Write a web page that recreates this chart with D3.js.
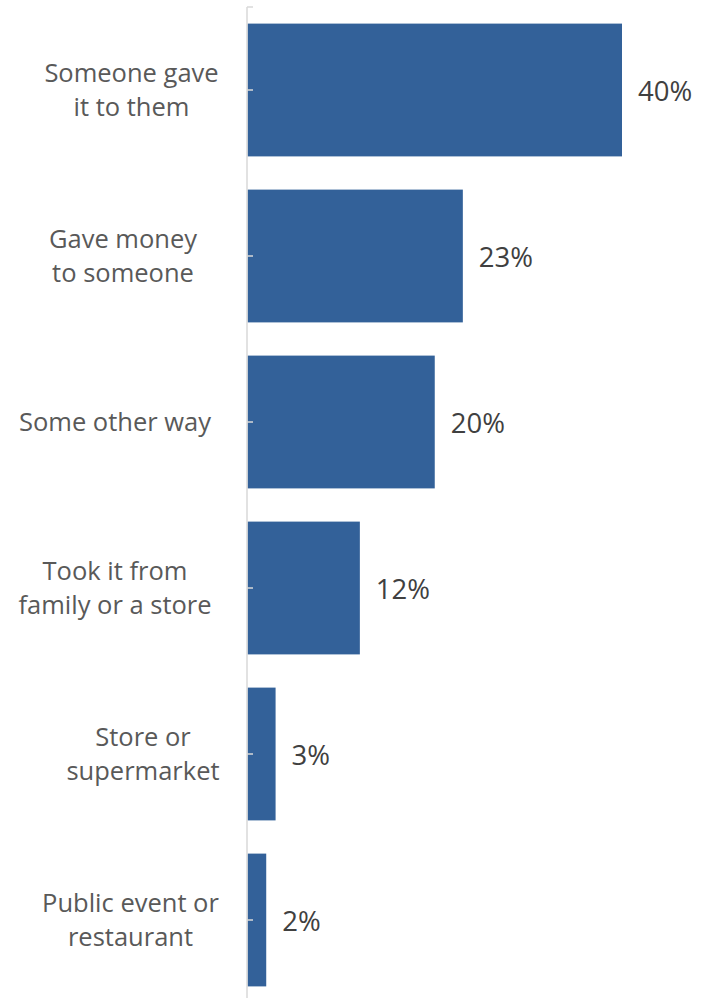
<!DOCTYPE html>
<html><head><meta charset="utf-8">
<script src="https://cdn.jsdelivr.net/npm/d3@7"></script>
<style>html,body{margin:0;padding:0;background:#fff;}</style>
</head><body>
<script>
const categories = [
  ["Someone gave", "it to them"],
  ["Gave money", "to someone"],
  ["Some other way"],
  ["Took it from", "family or a store"],
  ["Store or", "supermarket"],
  ["Public event or", "restaurant"]
];
const values = [40, 23, 20, 12, 3, 2];
const valueLabels = ["40%", "23%", "20%", "12%", "3%", "2%"];

const W = 702, H = 998;
const svg = d3.select("body").append("svg").attr("width", W).attr("height", H);
const font = "'Open Sans', sans-serif";
const textColor = "#595959";

const y = d3.scaleBand().domain(d3.range(categories.length)).range([7, 1003]).paddingInner(0.2).paddingOuter(0.1);
const x = d3.scaleLinear().domain([0, 40]).range([247.5, 622]);

svg.selectAll("rect.bar").data(values).enter().append("rect")
  .attr("class", "bar")
  .attr("x", x(0)).attr("y", (d, i) => y(i))
  .attr("width", d => x(d) - x(0)).attr("height", y.bandwidth())
  .attr("fill", "#336199");

// axis
const axisColor = "#d9d9d9";
svg.append("line").attr("x1", 247).attr("x2", 247).attr("y1", 7).attr("y2", 998)
  .attr("stroke", axisColor).attr("stroke-width", 1.5);
svg.append("line").attr("x1", 247).attr("x2", 253).attr("y1", 7).attr("y2", 7)
  .attr("stroke", axisColor).attr("stroke-width", 1.5);
svg.selectAll("line.tick").data(values).enter().append("line")
  .attr("class", "tick")
  .attr("x1", 247).attr("x2", 253)
  .attr("y1", (d, i) => y(i) + y.bandwidth() / 2).attr("y2", (d, i) => y(i) + y.bandwidth() / 2)
  .attr("stroke", axisColor).attr("stroke-width", 1.5);

// category labels (wrapped, each block centered as in the original layout)
const labelCenterX = [131.5, 123, 115, 115, 143, 130.5];
const fs = 25.5, lh = 34.5;
categories.forEach((lines, i) => {
  const cy = y(i) + y.bandwidth() / 2;
  lines.forEach((t, k) => svg.append("text")
    .attr("font-family", font).attr("font-size", fs).attr("fill", textColor)
    .attr("text-anchor", "middle")
    .attr("x", labelCenterX[i])
    .attr("y", cy + (k - (lines.length - 1) / 2) * lh)
    .attr("dy", "0.35em").text(t));
});

// value labels
svg.selectAll("text.val").data(values).enter().append("text")
  .attr("class", "val")
  .attr("x", d => x(d) + 16)
  .attr("y", (d, i) => y(i) + y.bandwidth() / 2 + 1)
  .attr("dy", "0.35em")
  .attr("font-family", font).attr("font-size", 27.5).attr("fill", "#404040")
  .text((d, i) => valueLabels[i]);
</script>
</body></html>
